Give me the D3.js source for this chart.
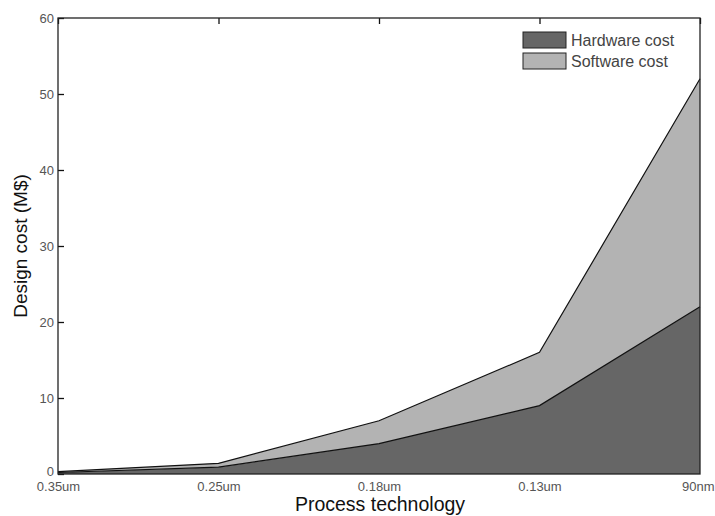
<!DOCTYPE html>
<html>
<head>
<meta charset="utf-8">
<script src="https://cdn.jsdelivr.net/npm/d3@7"></script>
<style>
  body { margin: 0; background: #fff; }
  text { font-family: "Liberation Sans", Arial, sans-serif; }
</style>
</head>
<body>
<div class="chart"></div>
<script>
const processes = ["0.35um", "0.25um", "0.18um", "0.13um", "90nm"];
const hardwareCost = [0.2, 0.9, 4, 9, 22];
const softwareCost = [0.1, 0.5, 3, 7, 30];
const yTicks = [0, 10, 20, 30, 40, 50, 60];
const seriesNames = ["Hardware cost", "Software cost"];
const seriesColors = ["#666666", "#b3b3b3"];

const margin = { top: 18, right: 15, bottom: 42, left: 58 };
const width = 715 - margin.left - margin.right;
const height = 474 - margin.top;

const svg = d3.select(".chart")
    .append("svg")
    .attr("width", 715)
    .attr("height", 516);

const g = svg.append("g")
    .attr("transform", "translate(" + margin.left + "," + margin.top + ")");

const x = d3.scalePoint().domain(processes).range([0, width]);
const y = d3.scaleLinear().domain([0, 60]).range([height, 0]);

const rows = processes.map((p, i) => ({ p: p, hw: hardwareCost[i], sw: softwareCost[i] }));
const stack = d3.stack().keys(["hw", "sw"]);
const layers = stack(rows);

const area = d3.area()
    .x((d) => x(d.data.p))
    .y0((d) => y(d[0]))
    .y1((d) => y(d[1]));

const line = d3.line()
    .x((d) => x(d.data.p))
    .y((d) => y(d[1]));

g.selectAll(".layer")
    .data(layers)
    .enter()
    .append("path")
    .attr("class", "layer")
    .attr("d", area)
    .attr("fill", (d, i) => seriesColors[i]);

g.selectAll(".edge")
    .data(layers)
    .enter()
    .append("path")
    .attr("class", "edge")
    .attr("d", line)
    .attr("fill", "none")
    .attr("stroke", "#111")
    .attr("stroke-width", 1.2);

// y axis, ticks inside
const yAxis = d3.axisLeft(y).tickValues(yTicks).tickSize(-6).tickPadding(4);
const ya = g.append("g").call(yAxis);
ya.select(".domain").remove();
ya.selectAll("line").attr("stroke", "#111").attr("stroke-width", 1.3);
ya.selectAll("text").style("font-size", "13px").attr("fill", "#555");
// lift the zero label a little so it clears the first x label
ya.selectAll(".tick text").filter((d) => d === 0).attr("y", -3);

// x axis bottom
const xAxis = d3.axisBottom(x).tickSize(0).tickPadding(8);
const xa = g.append("g").attr("transform", "translate(0," + height + ")").call(xAxis);
xa.select(".domain").remove();
xa.selectAll("text").style("font-size", "13px").attr("fill", "#555");
// keep the last label inside the page
xa.selectAll(".tick text")
    .filter((d) => d === processes[processes.length - 1])
    .attr("text-anchor", "end")
    .attr("x", 14);

// top ticks inside
const xTop = d3.axisTop(x).tickSize(-6).tickFormat("");
const xt = g.append("g").call(xTop);
xt.select(".domain").remove();
xt.selectAll("line").attr("stroke", "#111").attr("stroke-width", 1.3);

// frame
g.append("rect")
    .attr("x", 0)
    .attr("y", 0)
    .attr("width", width)
    .attr("height", height)
    .attr("fill", "none")
    .attr("stroke", "#222")
    .attr("stroke-width", 1.3);

// legend
const legend = g.append("g").attr("transform", "translate(" + (width - 177) + ",14)");
seriesNames.forEach((name, i) => {
    legend.append("rect")
        .attr("x", 0)
        .attr("y", i * 21)
        .attr("width", 43)
        .attr("height", 16)
        .attr("fill", seriesColors[i])
        .attr("stroke", "#222")
        .attr("stroke-width", 1);
    legend.append("text")
        .attr("x", 48)
        .attr("y", i * 21 + 14)
        .style("font-size", "16px")
        .attr("fill", "#444")
        .text(name);
});

svg.append("text")
    .attr("x", 380)
    .attr("y", 511)
    .attr("text-anchor", "middle")
    .style("font-size", "19.5px")
    .attr("fill", "#111")
    .text("Process technology");

svg.append("text")
    .attr("transform", "translate(27," + (margin.top + height / 2) + ") rotate(-90)")
    .attr("text-anchor", "middle")
    .style("font-size", "19px")
    .attr("fill", "#111")
    .text("Design cost (M$)");
</script>
</body>
</html>
